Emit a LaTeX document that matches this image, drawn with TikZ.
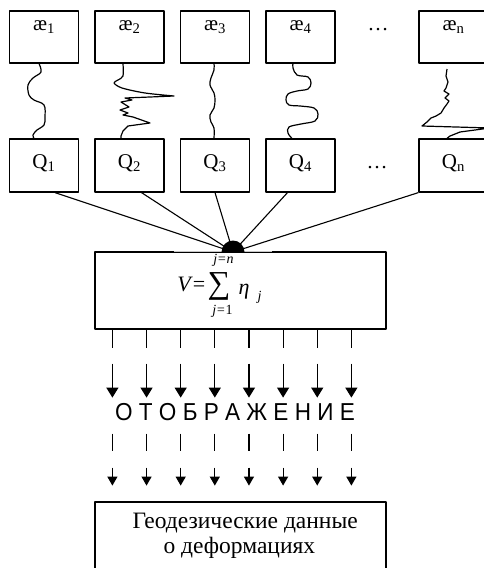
\documentclass[tikz,border=0pt]{standalone}
\usepackage{fontspec}
\setmainfont{Liberation Serif}
\newfontfamily\sansf{Liberation Sans}
\usetikzlibrary{arrows.meta,calc}
\begin{document}
\begin{tikzpicture}[x=1pt,y=-1pt,line width=1.2pt,line join=round,
  box/.style={draw,minimum width=69pt,minimum height=52pt,inner sep=0pt,font=\fontsize{21}{21}\selectfont},
  topbox/.style={box,text height=10pt,text depth=24pt},
  qbox/.style={box,minimum height=53pt,text height=15pt,text depth=10pt},
  wave/.style={line width=1.2pt},
  fan/.style={line width=1.1pt},
  dotsl/.style={font=\fontsize{21}{21}\selectfont,inner sep=0pt,anchor=base},
  fm/.style={font=\fontsize{22}{22}\selectfont,inner sep=0pt},
  lim/.style={font=\fontsize{14}{14}\selectfont\itshape,inner sep=0pt},
  bigarrow/.style={-{Triangle[width=12pt,length=10pt]}},
  smallarrow/.style={-{Triangle[width=10pt,length=9pt]}},
  gtext/.style={font=\fontsize{23.5}{23.5}\selectfont,inner sep=0pt,anchor=base west}
]
\clip (0,0) rectangle (484,568);
% top boxes
\node[topbox] (a1) at (44,37) {æ\textsubscript{1}};
\node[topbox] (a2) at (129.5,37) {æ\textsubscript{2}};
\node[topbox] (a3) at (215,37) {æ\textsubscript{3}};
\node[topbox] (a4) at (300.5,37) {æ\textsubscript{4}};
\node[topbox] (an) at (453.5,37) {æ\textsubscript{n}};
\node[dotsl] (d1) at (378,30) {…};
% Q boxes
\node[qbox] (q1) at (44,165.5) {Q\textsubscript{1}};
\node[qbox] (q2) at (129.5,165.5) {Q\textsubscript{2}};
\node[qbox] (q3) at (215,165.5) {Q\textsubscript{3}};
\node[qbox] (q4) at (300.5,165.5) {Q\textsubscript{4}};
\node[qbox] (qn) at (453.5,165.5) {Q\textsubscript{n}};
\node[dotsl] (d2) at (377,168) {…};
% waves
\draw[wave] plot[smooth,tension=0.6] coordinates {($(a1.south)+(-5,0)$) (41,72) (33,78) (28,85) (29,95) (34,100) (44,105) (45,117) (44,125) (37,130) (33,135) ($(q1.north)+(-10,0)$)};
\draw[wave] plot[smooth,tension=0.5] coordinates {($(a2.south)+(-6.5,0)$) (123,76) (118,80) (114,83) (122,88) (145,93) (174,96)}
  -- (150,97) -- (125,98) -- (132,100) -- (121,102) -- (129,107) -- (120,110) -- (128,113) -- (123,115) -- (133,117) -- (150,123) -- (128,126) -- (123,131) -- (121,136) -- ($(q2.north)+(-8.5,0)$);
\draw[wave] plot[smooth,tension=0.6] coordinates {($(a3.south)+(-1,0)$) (214,70) (211,78) (210,85) (214,93) (215,100) (214,108) (210,115) (211,122) (214,128) ($(q3.north)+(-1,0)$)};
\draw[wave] plot[smooth,tension=0.6] coordinates {($(a4.south)+(-7.5,0)$) (293,68) (297,75) (308,77) (311,83) (308,89) (297,91) (288,94) (286,100) (289,105) (300,106) (314,108) (318,114) (315,121) (301,124) (289,127) (288,133) ($(q4.north)+(-8.5,0)$)};
\draw[wave] (447,69) -- (446,76) -- (448,82) -- (446,88) -- (444,91) -- (449,94) -- (445,98) -- (449,101) -- (447,104) -- (444,108) -- (441,113) -- (436,116) -- (431,118) -- (427,122) -- (422,126) -- (490,128) -- (460,132) -- (450,136) -- ($(qn.north)+(-6.5,0)$);
% sum box
\node[draw,minimum width=291pt,minimum height=77pt,inner sep=0pt] (vb) at (240.5,290.5) {};
\draw[gray!45] ($(vb.north west)+(80,0)$) -- ($(vb.north west)+(178,0)$);
\coordinate (hub) at (233,252);
\draw[fan] ($(q1.south)+(11,0)$) -- (hub);
\draw[fan] ($(q2.south)+(12,0)$) -- (hub);
\draw[fan] (q3.south) -- (hub);
\draw[fan] ($(q4.south)+(-13,0)$) -- (hub);
\draw[fan] (qn.south west) -- (hub);
\begin{scope}
  \clip (hub) ++(-13,0) rectangle ++(26,-14);
  \fill (hub) circle[radius=11.5pt];
\end{scope}
% formula
\node[fm,anchor=base east] (fV) at (206,291) {\textit{V}=};
\node[inner sep=0pt,font=\fontsize{32}{32}\selectfont] (sum) at (219,286.5) {∑};
\node[lim] (up) at (223.5,260) {j=n};
\node[lim] (lo) at (222.5,311) {j=\textup{1}};
\node[fm,anchor=base west] (eta) at (238,294) {\textit{η}};
\node[lim,anchor=base west] (sj) at (257,300) {j};
% arrows
\node[font=\sansf\fontsize{24.5}{24.5}\selectfont,inner sep=0pt] (otob) at (235,412.5) {\scalebox{0.92}[1]{О Т О Б Р А Ж Е Н И Е}};
\foreach \i in {0,...,7}{
  \path (vb.south west) ++({18+34.14*\i},0) coordinate (s\i);
  \draw (s\i) -- ++(0,18);
  \draw[bigarrow] ($(s\i)+(0,34)$) -- ++(0,34);
  \draw ($(s\i)+(0,104)$) -- ++(0,17);
  \draw[smallarrow] ($(s\i)+(0,138)$) -- ++(0,18);
}
% bottom box
\node[draw,minimum width=291pt,minimum height=90pt,inner sep=0pt] (gb) at (240.5,547) {};
\node[gtext] (g1) at (132,528) {Геодезические данные};
\node[gtext] (g2) at (163,553) {о деформациях};
\end{tikzpicture}
\end{document}
